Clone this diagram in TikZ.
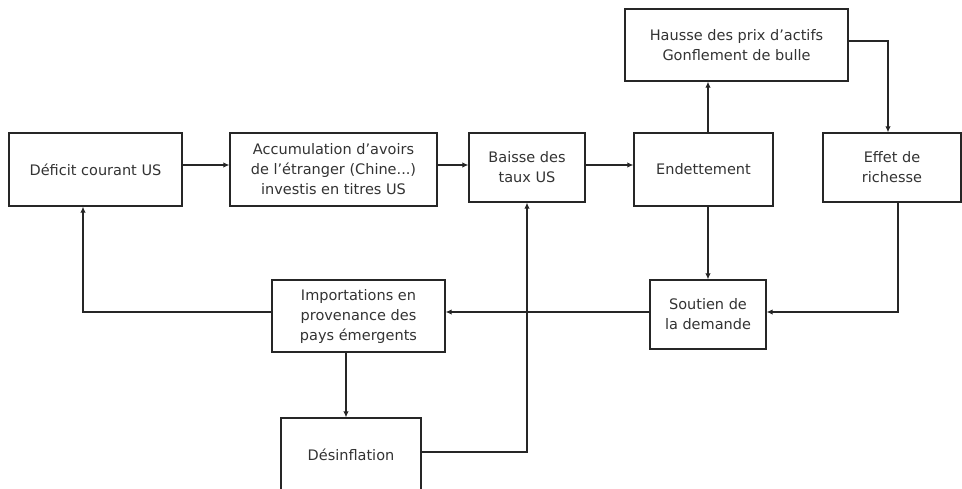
\documentclass[tikz,border=0pt]{standalone}
\usepackage{fontspec}
\setmainfont{DejaVu Sans}
\usetikzlibrary{arrows.meta}
\begin{document}
\begin{tikzpicture}[x=1pt,y=-1pt,
  box/.style={draw=black!85,line width=1.3pt,inner sep=0pt,align=center,
    font=\fontsize{14.5}{20}\selectfont,text=black!80},
  arr/.style={draw=black!85,line width=1.2pt,-{Latex[length=6pt,width=5.5pt]}}]
\useasboundingbox (0,0) rectangle (962,488);
\fill[white] (0,0) rectangle (962,488);
\node[box,minimum width=173pt,minimum height=73pt] (def) at (95.5,169.5) {Déficit courant US};
\node[box,minimum width=207pt,minimum height=73pt] (acc) at (333.5,169.5) {Accumulation d’avoirs\\de l’étranger (Chine...)\\investis en titres US};
\node[box,minimum width=116pt,minimum height=69pt] (baisse) at (527,167.5) {Baisse des\\taux US};
\node[box,minimum width=139pt,minimum height=73pt] (endet) at (703.5,169.5) {Endettement};
\node[box,minimum width=138pt,minimum height=69pt] (effet) at (892,167.5) {Effet de\\richesse};
\node[box,minimum width=223pt,minimum height=72pt] (hausse) at (736.5,45) {Hausse des prix d’actifs\\Gonflement de bulle};
\node[box,minimum width=116pt,minimum height=69pt] (soutien) at (708,314.5) {Soutien de\\la demande};
\node[box,minimum width=173pt,minimum height=72pt] (import) at (358.5,316) {Importations en\\provenance des\\pays émergents};
\node[box,minimum width=140pt,minimum height=74pt,text depth=0pt] (desinf) at (351,455) {Désinflation};

\draw[arr] ([yshift=4.5pt]def.east) -- ([yshift=4.5pt]acc.west);
\draw[arr] ([yshift=4.5pt]acc.east) -- ([yshift=2.5pt]baisse.west);
\draw[arr] ([yshift=2.5pt]baisse.east) -- ([yshift=4.5pt]endet.west);
\draw[arr] (endet.north -| soutien.north) -- (hausse.south -| soutien.north);
\draw[arr] ([yshift=4pt]hausse.east) -| ([xshift=-4pt]effet.north);
\draw[arr] (endet.south -| soutien.north) -- (soutien.north);
\draw[arr] ([xshift=6pt]effet.south) |- ([yshift=2.5pt]soutien.east);
\draw[arr] ([yshift=2.5pt]soutien.west) -- ([yshift=2.5pt]soutien.west -| import.east);
\draw[arr] ([yshift=4pt]import.west) -| ([xshift=-12.5pt]def.south);
\draw[arr] ([xshift=-5pt]desinf.north |- import.south) -- ([xshift=-5pt]desinf.north);
\draw[arr] ([yshift=3pt]desinf.east) -| (baisse.south);
\end{tikzpicture}
\end{document}
